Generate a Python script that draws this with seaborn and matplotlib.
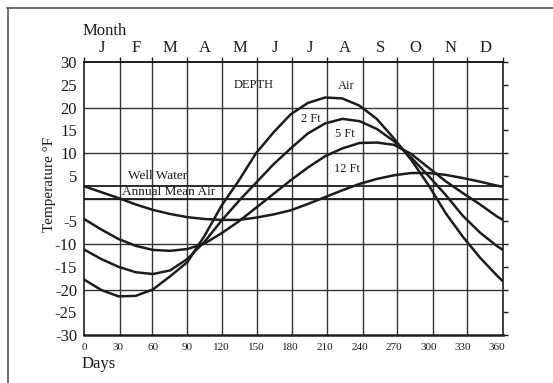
import numpy as np
import pandas as pd
import matplotlib.pyplot as plt
import seaborn as sns
from matplotlib.lines import Line2D

# values (degrees F vs. day of year)
days = [0, 15, 30, 45, 60, 75, 90, 105, 120, 135, 150, 165, 180,
        195, 210, 225, 240, 255, 270, 285, 300, 315, 330, 345, 360, 365]
air = [-17.8, -20.1, -21.5, -21.4, -20.0, -17.1, -14.0, -8.2, -1.5, 4.0, 10.0, 14.5, 18.5,
       21.0, 22.2, 22.0, 20.4, 17.5, 13.2, 8.5, 3.0, -3.2, -8.4, -13.0, -17.0, -18.2]
ft2 = [-11.2, -13.3, -15.0, -16.2, -16.6, -15.8, -13.3, -9.5, -4.8, -0.5, 3.5, 7.5, 11.0,
       14.3, 16.5, 17.5, 17.0, 15.3, 12.6, 9.0, 5.0, 0.8, -3.8, -7.5, -10.5, -11.3]
ft5 = [-4.5, -6.8, -8.9, -10.4, -11.3, -11.5, -11.1, -9.9, -7.6, -5.0, -2.0, 1.0, 4.0,
       6.8, 9.3, 11.0, 12.2, 12.3, 11.8, 9.8, 6.8, 3.8, 1.2, -1.3, -4.0, -4.7]
ft12 = [2.7, 1.4, 0.1, -1.3, -2.5, -3.4, -4.1, -4.5, -4.7, -4.7, -4.2, -3.5, -2.6,
        -1.2, 0.3, 1.8, 3.2, 4.3, 5.1, 5.6, 5.6, 5.2, 4.5, 3.7, 2.8, 2.6]
well_water = 2.8
annual_mean_air = 0.0

month_letters = ['J', 'F', 'M', 'A', 'M', 'J', 'J', 'A', 'S', 'O', 'N', 'D']
month_starts = [0, 31, 59, 90, 120, 151, 181, 212, 243, 273, 304, 334, 365]
grid_temps = [-20, -10, 0, 10, 20]
day_ticks = list(range(0, 361, 30))
temp_ticks = list(range(-30, 31, 5))

df = pd.concat([
    pd.DataFrame({'day': days, 'temp': air, 'depth': 'Air'}),
    pd.DataFrame({'day': days, 'temp': ft2, 'depth': '2 Ft'}),
    pd.DataFrame({'day': days, 'temp': ft5, 'depth': '5 Ft'}),
    pd.DataFrame({'day': days, 'temp': ft12, 'depth': '12 Ft'}),
])

sns.set_style("white")
plt.rcParams['font.family'] = ['Liberation Serif', 'DejaVu Serif']

ink = '#1c1c1c'
fig = plt.figure(figsize=(5.53, 3.83), dpi=100)
ax = fig.add_axes([0.1519, 0.1253, 0.7577, 0.7128])

# grid: month boundaries and every 10 degrees
ax.vlines(month_starts[1:-1], -30, 30, color='#333333', lw=1.0, zorder=1)
ax.hlines(grid_temps, 0, 365, color='#333333', lw=1.0, zorder=1)
ax.hlines([well_water, annual_mean_air], 0, 365, color=ink, lw=1.3, zorder=2)

sns.lineplot(data=df, x='day', y='temp', hue='depth', palette=[ink] * 4,
             estimator=None, legend=False, lw=1.8, ax=ax, zorder=3)

ax.set_xlim(0, 365)
ax.set_ylim(-30, 30)
ax.set_xticks(day_ticks)
ax.set_xticklabels([str(d) for d in day_ticks], fontsize=8)
ax.set_yticks(temp_ticks)
ax.set_yticklabels(['' if t == 0 else str(t) for t in temp_ticks], fontsize=12)
ax.tick_params(axis='x', direction='out', length=3.5, width=1, pad=2, colors=ink)
ax.tick_params(axis='y', direction='out', length=3.5, width=1, pad=1.5, colors=ink,
               right=True, labelright=False)
ax.set_xlabel('')
ax.set_ylabel('')
for side in ['left', 'right', 'top']:
    ax.spines[side].set_color(ink)
    ax.spines[side].set_linewidth(1.2)
ax.spines['bottom'].set_color(ink)
ax.spines['bottom'].set_linewidth(1.8)

# month letters along the top
mids = [(a + b) / 2 for a, b in zip(month_starts[:-1], month_starts[1:])]
top = ax.secondary_xaxis('top')
top.set_xticks(month_starts, labels=[''] * len(month_starts))
top.set_xticks(mids, labels=month_letters, minor=True)
top.tick_params(which='major', direction='out', length=3.5, width=1, colors=ink)
top.tick_params(which='minor', length=0, pad=4, labelsize=12, colors=ink)
top.spines['top'].set_linewidth(1.2)
top.spines['top'].set_color(ink)

# labels inside the plot
ax.text(148, 24.9, 'DEPTH', fontsize=9, ha='center', va='center', color=ink)
ax.text(228, 24.7, 'Air', fontsize=9, ha='center', va='center', color=ink)
ax.text(198, 17.5, '2 Ft', fontsize=9, ha='center', va='center', color=ink)
ax.text(227, 14.2, '5 Ft', fontsize=9, ha='center', va='center', color=ink)
ax.text(229, 6.4, '12 Ft', fontsize=9, ha='center', va='center', color=ink)
ax.text(64, 5.0, 'Well Water', fontsize=9.5, ha='center', va='center', color=ink)
ax.text(74, 1.35, 'Annual Mean Air', fontsize=9.5, ha='center', va='center', color=ink)

fig.text(83 / 553, 1 - 31 / 383, 'Month', fontsize=12, ha='left', va='center', color=ink)
fig.text(82 / 553, 1 - 364 / 383, 'Days', fontsize=12, ha='left', va='center', color=ink)
fig.text(50 / 553, 1 - 184 / 383, 'Temperature °F', fontsize=11, rotation=90,
         ha='center', va='center', color=ink)

# partial frame of the scanned page
fig.add_artist(Line2D([7 / 553, 1], [1 - 8 / 383, 1 - 8 / 383], color='#555555', lw=1.2))
fig.add_artist(Line2D([8 / 553, 8 / 553], [1 - 8 / 383, 0], color='#555555', lw=1.2))

fig.savefig('out.png', dpi=100)
